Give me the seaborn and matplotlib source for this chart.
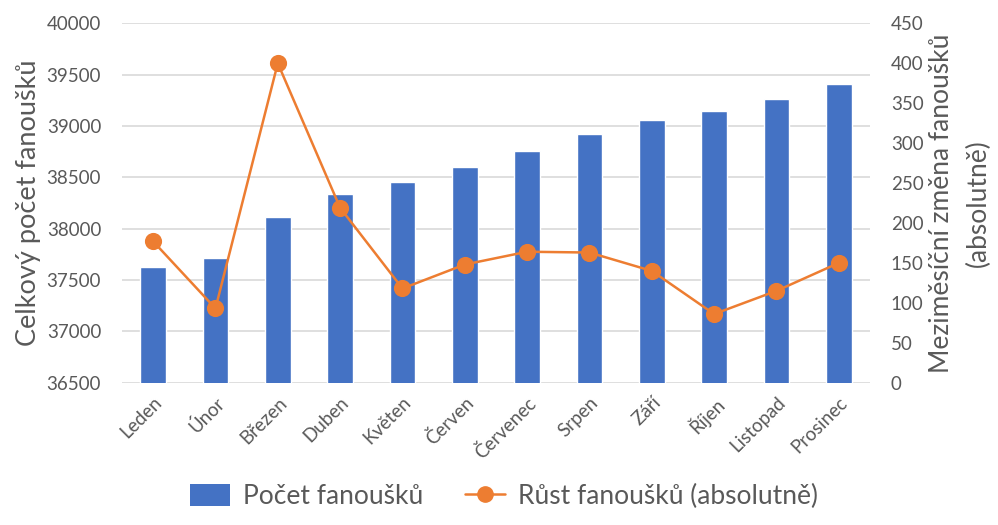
import pandas as pd
import matplotlib.pyplot as plt
import seaborn as sns
from matplotlib.lines import Line2D
from matplotlib.patches import Patch

# data
months = ['Leden', 'Únor', 'Březen', 'Duben', 'Květen', 'Červen',
          'Červenec', 'Srpen', 'Září', 'Říjen', 'Listopad', 'Prosinec']
fans_total = [37625, 37715, 38113, 38335, 38450, 38597,
              38760, 38923, 39062, 39150, 39265, 39412]
fans_growth = [177, 93, 400, 219, 118, 148, 164, 163, 140, 86, 115, 150]

df = pd.DataFrame({'month': months, 'total': fans_total, 'growth': fans_growth})

sns.set_theme(style='white')
plt.rcParams['font.family'] = ['Lato', 'DejaVu Sans']

BLUE = '#4472C4'
ORANGE = '#ED7D31'
GREY = '#595959'

fig = plt.figure(figsize=(9.98, 5.25), dpi=100)
ax = fig.add_axes([0.1222, 0.271, 0.7495, 0.6846])

sns.barplot(data=df, x='month', y='total', color=BLUE, width=0.41,
            saturation=1, ax=ax, zorder=2)
ax.set_ylim(36500, 40000)
ax.set_yticks(range(36500, 40001, 500))
ax.yaxis.grid(True, color='#D9D9D9', linewidth=1.2, zorder=0)
ax.set_axisbelow(True)
ax.set_xlim(-0.5, len(months) - 0.5)
ax.set_xlabel('')
ax.set_ylabel('Celkový počet fanoušků', fontsize=19.5, color=GREY, labelpad=4)
ax.tick_params(axis='y', labelsize=13.5, colors=GREY, length=0, pad=15)
ax.tick_params(axis='x', labelsize=13.5, colors=GREY, length=0, pad=8)
plt.setp(ax.get_xticklabels(), rotation=45, ha='right', rotation_mode='anchor')
for s in ax.spines.values():
    s.set_visible(False)

ax2 = ax.twinx()
sns.pointplot(data=df, x='month', y='growth', color=ORANGE, markers='o',
              markersize=11, linewidth=1.8, ax=ax2)
ax2.set_ylim(0, 450)
ax2.set_yticks(range(0, 451, 50))
ax2.set_xlim(-0.5, len(months) - 0.5)
ax2.set_ylabel('Meziměsíční změna fanoušků\n(absolutně)', fontsize=19,
               color=GREY, labelpad=4, linespacing=1.6)
ax2.tick_params(axis='y', labelsize=13.5, colors=GREY, length=0, pad=15)
for s in ax2.spines.values():
    s.set_visible(False)

handles = [Patch(facecolor=BLUE, edgecolor='none'),
           Line2D([0], [0], color=ORANGE, linewidth=1.8, marker='o', markersize=11)]
fig.legend(handles, ['Počet fanoušků', 'Růst fanoušků (absolutně)'],
           loc='lower center', bbox_to_anchor=(0.505, -0.015), ncol=2,
           frameon=False, fontsize=19, labelcolor=GREY,
           handlelength=1.5, handleheight=0.9, handletextpad=0.5,
           columnspacing=1.6)

plt.savefig('out.png', dpi=100)
